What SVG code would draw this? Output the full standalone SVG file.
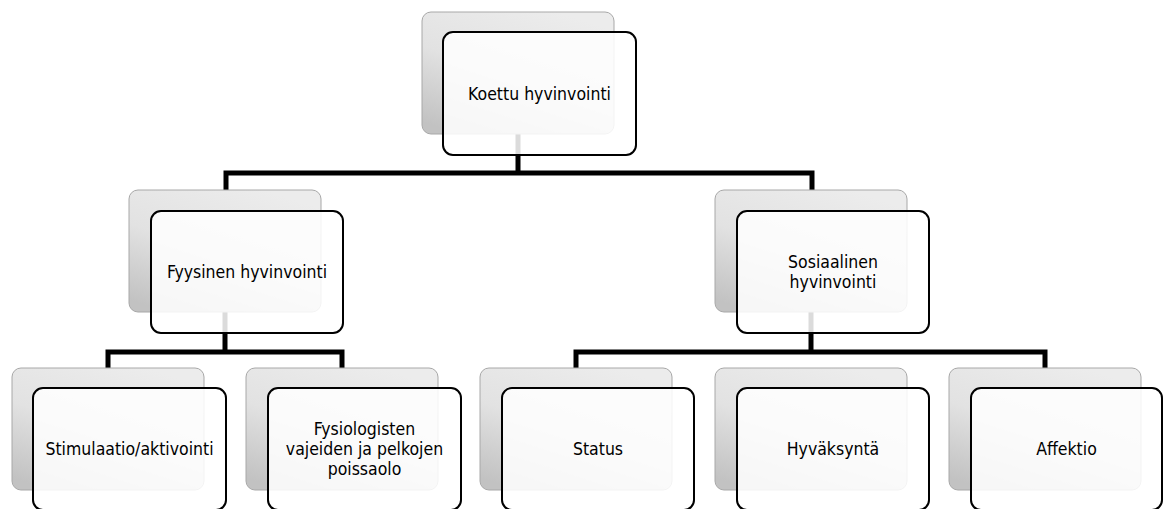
<svg xmlns="http://www.w3.org/2000/svg" width="1164" height="509" viewBox="0 0 1164 509">
<defs>
<linearGradient id="g" x1="0.7" y1="0" x2="0.2" y2="1">
<stop offset="0" stop-color="#ececec"/>
<stop offset="0.5" stop-color="#e2e2e2"/>
<stop offset="1" stop-color="#c2c2c2"/>
</linearGradient>
</defs>
<style>
.back{fill:url(#g);stroke:#a8a8a8;stroke-width:1}
.front{fill:#ffffff;fill-opacity:0.86;stroke:#000;stroke-width:2}
.t{font-family:"DejaVu Sans Condensed","DejaVu Sans",sans-serif;font-stretch:condensed;font-size:17.5px;fill:#000;text-anchor:middle}
.c{fill:none;stroke:#000;stroke-width:5;stroke-linejoin:miter}
</style>
<g id="connectors">
<path class="c" d="M518,134 V173 M226,190 V173 H812 V190"/>
<path class="c" d="M225,312 V352 M108,368 V352 H342 V368"/>
<path class="c" d="M811,312 V352 M576,368 V352 H1045 V368"/>
</g>
<g id="n-koettu">
<rect class="back" x="422" y="12" width="192" height="122" rx="9"/>
<rect class="front" x="443" y="32" width="193" height="123" rx="10"/>
<text class="t" x="539.5" y="100">Koettu hyvinvointi</text>
</g>
<g id="n-fyysinen">
<rect class="back" x="129" y="190" width="192" height="122" rx="9"/>
<rect class="front" x="151" y="211" width="192" height="122" rx="10"/>
<text class="t" x="247" y="278">Fyysinen hyvinvointi</text>
</g>
<g id="n-sosiaalinen">
<rect class="back" x="715" y="190" width="192" height="122" rx="9"/>
<rect class="front" x="737" y="211" width="192" height="122" rx="10"/>
<text class="t" x="833" y="268">Sosiaalinen</text>
<text class="t" x="833" y="288">hyvinvointi</text>
</g>
<g id="n-stimulaatio">
<rect class="back" x="12" y="368" width="192" height="122" rx="9"/>
<rect class="front" x="33" y="388" width="193" height="122" rx="10"/>
<text class="t" x="129.5" y="455">Stimulaatio/aktivointi</text>
</g>
<g id="n-fysiologisten">
<rect class="back" x="246" y="368" width="192" height="122" rx="9"/>
<rect class="front" x="268" y="388" width="193" height="122" rx="10"/>
<text class="t" x="364.5" y="435">Fysiologisten</text>
<text class="t" x="364.5" y="455">vajeiden ja pelkojen</text>
<text class="t" x="364.5" y="475">poissaolo</text>
</g>
<g id="n-status">
<rect class="back" x="480" y="368" width="192" height="122" rx="9"/>
<rect class="front" x="502" y="388" width="192" height="122" rx="10"/>
<text class="t" x="598" y="455">Status</text>
</g>
<g id="n-hyvaksynta">
<rect class="back" x="715" y="368" width="192" height="122" rx="9"/>
<rect class="front" x="737" y="388" width="192" height="122" rx="10"/>
<text class="t" x="833" y="455">Hyväksyntä</text>
</g>
<g id="n-affektio">
<rect class="back" x="949" y="368" width="192" height="122" rx="9"/>
<rect class="front" x="971" y="388" width="191" height="122" rx="10"/>
<text class="t" x="1066.5" y="455">Affektio</text>
</g>
</svg>
